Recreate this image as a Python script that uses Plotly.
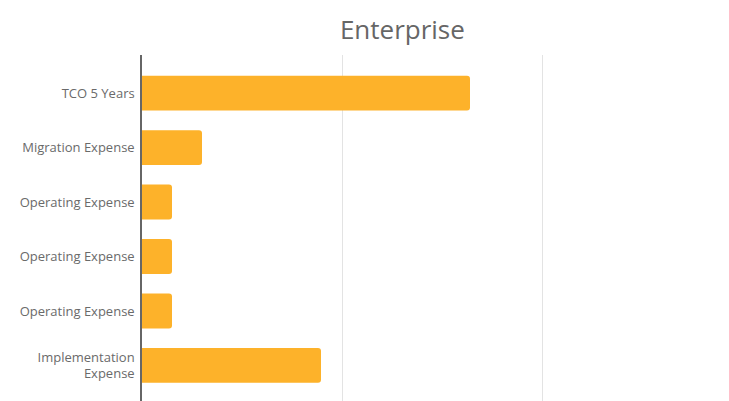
import plotly.graph_objects as go

categories = [
    "TCO 5 Years",
    "Migration Expense",
    "Operating Expense",
    "Operating Expense",
    "Operating Expense",
    "Implementation<br>Expense",
]
values = [1.64, 0.30, 0.15, 0.15, 0.15, 0.895]

positions = list(range(len(categories)))

fig = go.Figure()
fig.add_trace(
    go.Bar(
        x=values,
        y=positions,
        orientation="h",
        marker=dict(color="#FDB22A", line=dict(width=0), cornerradius=3),
        width=0.64,
        hoverinfo="x",
    )
)

fig.update_layout(
    width=729,
    height=401,
    paper_bgcolor="white",
    plot_bgcolor="white",
    margin=dict(l=134, r=0, t=47, b=0),
    showlegend=False,
    font=dict(family="Open Sans, sans-serif", color="#666666", size=12),
    title=dict(
        text="Enterprise",
        x=0.541,
        xanchor="center",
        yref="container",
        y=0.945,
        yanchor="middle",
        font=dict(family="Open Sans, sans-serif", size=26, color="#666666"),
    ),
    xaxis=dict(
        range=[0, 2.975],
        dtick=1,
        showticklabels=False,
        showgrid=True,
        gridcolor="#e3e3e3",
        gridwidth=1,
        zeroline=False,
        showline=False,
    ),
    yaxis=dict(
        tickvals=positions,
        ticktext=categories,
        range=[5.8, -0.7],
        showgrid=False,
        zeroline=False,
        showline=True,
        linecolor="#666666",
        linewidth=1.5,
        ticks="outside",
        ticklen=3,
        tickcolor="rgba(0,0,0,0)",
        tickfont=dict(size=13, color="#6a6a6a"),
    ),
)

fig.write_html("out.html")
